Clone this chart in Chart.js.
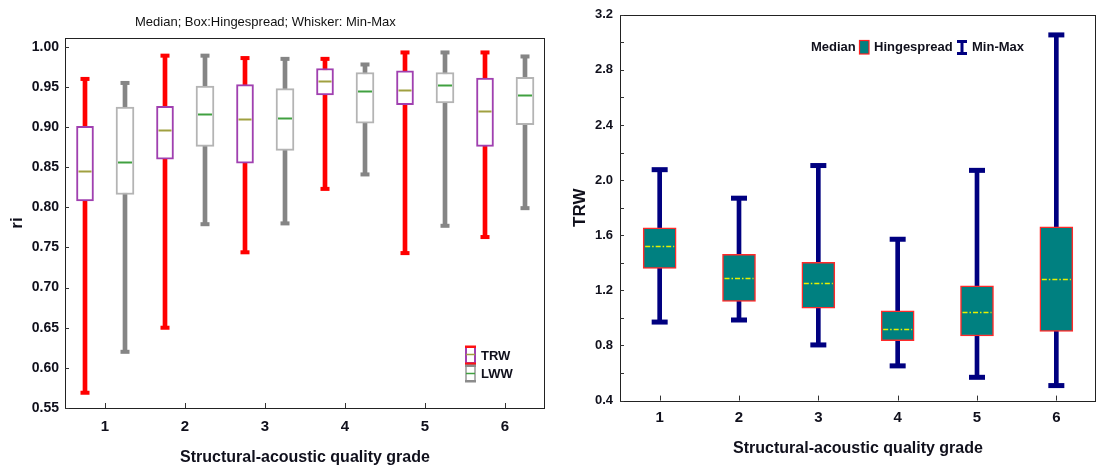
<!DOCTYPE html>
<html><head><meta charset="utf-8">
<script src="https://cdn.jsdelivr.net/npm/chart.js@4.4.1/dist/chart.umd.min.js"></script>
<style>
html,body{margin:0;padding:0;background:#fff;}
#wrap{position:relative;width:1100px;height:470px;overflow:hidden;background:#fff;}
#c1{position:absolute;left:0;top:0;width:555px;height:470px;}
#c2{position:absolute;left:560px;top:0;width:540px;height:470px;}
</style></head><body>
<div id="wrap"><canvas id="c1" width="555" height="470"></canvas><canvas id="c2" width="540" height="470"></canvas></div>
<script>
// ---------- data ----------
const grades = ['1', '2', '3', '4', '5', '6'];

// left panel (ri)
const trwMin = [0.569, 0.650, 0.744, 0.823, 0.743, 0.763];
const trwQ1  = [0.808, 0.860, 0.855, 0.940, 0.928, 0.876];
const trwMed = [0.845, 0.896, 0.910, 0.958, 0.946, 0.920];
const trwQ3  = [0.901, 0.926, 0.953, 0.973, 0.970, 0.961];
const trwMax = [0.960, 0.989, 0.986, 0.985, 0.993, 0.993];

const lwwMin = [0.620, 0.779, 0.780, 0.841, 0.777, 0.799];
const lwwQ1  = [0.816, 0.876, 0.871, 0.905, 0.930, 0.903];
const lwwMed = [0.856, 0.916, 0.911, 0.945, 0.952, 0.940];
const lwwQ3  = [0.925, 0.951, 0.948, 0.968, 0.968, 0.962];
const lwwMax = [0.955, 0.989, 0.985, 0.978, 0.993, 0.988];

const riTicks = [0.55, 0.60, 0.65, 0.70, 0.75, 0.80, 0.85, 0.90, 0.95, 1.00];

// right panel (TRW)
const rMin = [0.970, 0.985, 0.804, 0.652, 0.569, 0.509];
const rQ1  = [1.359, 1.119, 1.071, 0.835, 0.869, 0.902];
const rMed = [1.519, 1.292, 1.254, 0.919, 1.042, 1.283];
const rQ3  = [1.654, 1.461, 1.404, 1.052, 1.233, 1.661];
const rMax = [2.076, 1.869, 2.106, 1.571, 2.071, 3.054];

const trwTicks = [0.4, 0.8, 1.2, 1.6, 2.0, 2.4, 2.8, 3.2];

// ---------- helpers ----------
const FONT = "'Liberation Sans', Arial, sans-serif";
const TXT = '#10101c';

const boxPlot = {
  id: 'boxPlot',
  afterDatasetsDraw(chart, args, opts) {
    const ctx = chart.ctx, y = chart.scales.y;
    (opts.series || []).forEach(s => {
      const bm = chart.getDatasetMeta(s.box);
      bm.data.forEach((el, i) => {
        const cx = el.x, w = el.width;
        ctx.save();
        ctx.fillStyle = s.capColor;
        [s.min[i], s.max[i]].forEach(v => {
          const py = y.getPixelForValue(v);
          ctx.fillRect(cx - s.capW / 2, py - s.capH / 2, s.capW, s.capH);
        });
        ctx.strokeStyle = s.medColor;
        ctx.lineWidth = s.medW;
        if (s.dash) ctx.setLineDash(s.dash);
        const my = Math.round(y.getPixelForValue(s.med[i])) + 0.5;
        ctx.beginPath();
        ctx.moveTo(cx - w / 2 + s.inset, my);
        ctx.lineTo(cx + w / 2 - s.inset, my);
        ctx.stroke();
        ctx.restore();
      });
    });
  }
};

const frame = {
  id: 'frame',
  afterDraw(chart, args, opts) {
    const ctx = chart.ctx, a = chart.chartArea, x = chart.scales.x, y = chart.scales.y;
    ctx.save();
    ctx.strokeStyle = '#222';
    ctx.lineWidth = 1;
    ctx.strokeRect(Math.round(a.left) + 0.5, Math.round(a.top) + 0.5,
      Math.round(a.right - a.left) - 1, Math.round(a.bottom - a.top));
    ctx.strokeStyle = '#333';
    const yt = y.ticks.map(t => t.value);
    yt.forEach(v => {
      const py = Math.round(y.getPixelForValue(v)) + 0.5;
      ctx.beginPath(); ctx.moveTo(a.left, py); ctx.lineTo(a.left + 4, py); ctx.stroke();
    });
    if (opts.minor) {
      for (let i = 0; i < yt.length - 1; i++) {
        const py = Math.round(y.getPixelForValue((yt[i] + yt[i + 1]) / 2)) + 0.5;
        ctx.beginPath(); ctx.moveTo(a.left, py); ctx.lineTo(a.left + 4, py); ctx.stroke();
      }
    }
    x.ticks.forEach((t, i) => {
      const px = Math.round(x.getPixelForValue(i)) + 0.5;
      ctx.beginPath(); ctx.moveTo(px, a.bottom); ctx.lineTo(px, a.bottom - 5); ctx.stroke();
    });
    ctx.restore();
  }
};

const leftDecor = {
  id: 'leftDecor',
  afterDraw(chart) {
    const ctx = chart.ctx;
    ctx.save();
    ctx.fillStyle = '#111';
    ctx.font = '13px ' + FONT;
    ctx.textBaseline = 'middle';
    ctx.textAlign = 'left';
    ctx.fillText('Median; Box:Hingespread; Whisker: Min-Max', 135, 22);
    // TRW icon
    ctx.fillStyle = '#fff';
    ctx.fillRect(465, 346, 10, 18);
    ctx.strokeStyle = '#a040b0'; ctx.lineWidth = 2;
    ctx.strokeRect(466, 347, 9, 16);
    ctx.fillStyle = '#ff1010';
    ctx.fillRect(465, 345.5, 11, 2.5);
    ctx.fillRect(465, 362.5, 11, 2.5);
    ctx.strokeStyle = '#a0a040'; ctx.lineWidth = 1.5;
    ctx.beginPath(); ctx.moveTo(466, 354.5); ctx.lineTo(475, 354.5); ctx.stroke();
    // LWW icon
    ctx.strokeStyle = '#b0b0b0'; ctx.lineWidth = 2;
    ctx.strokeRect(466, 366, 9, 15);
    ctx.fillStyle = '#8c8c8c';
    ctx.fillRect(465, 364.5, 11, 2.5);
    ctx.fillRect(465, 380, 11, 2.5);
    ctx.strokeStyle = '#40a040'; ctx.lineWidth = 1.5;
    ctx.beginPath(); ctx.moveTo(466, 373.5); ctx.lineTo(475, 373.5); ctx.stroke();
    ctx.fillStyle = TXT;
    ctx.font = 'bold 13px ' + FONT;
    ctx.fillText('TRW', 481, 356);
    ctx.fillText('LWW', 481, 374);
    ctx.restore();
  }
};

const rightDecor = {
  id: 'rightDecor',
  afterDraw(chart) {
    const ctx = chart.ctx;
    ctx.save();
    ctx.fillStyle = TXT;
    ctx.font = 'bold 13px ' + FONT;
    ctx.textBaseline = 'middle';
    ctx.textAlign = 'left';
    ctx.fillText('Median', 251, 47);
    ctx.fillStyle = '#008080';
    ctx.fillRect(299, 40, 10, 14);
    ctx.strokeStyle = '#ff2020'; ctx.lineWidth = 1.2;
    ctx.strokeRect(299.5, 40.5, 9.5, 13.5);
    ctx.fillStyle = TXT;
    ctx.fillText('Hingespread', 314, 47);
    ctx.fillStyle = '#000080';
    ctx.fillRect(397, 40, 10, 3);
    ctx.fillRect(397, 52, 10, 3);
    ctx.fillRect(400.5, 40, 3, 15);
    ctx.fillStyle = TXT;
    ctx.fillText('Min-Max', 412, 47);
    ctx.restore();
  }
};

function whiskerDS(label, mins, maxs, color, stack, thick) {
  return {
    label, stack, order: 2,
    data: mins.map((m, i) => [m, maxs[i]]),
    backgroundColor: color, borderWidth: 0,
    categoryPercentage: 1, barPercentage: 1, maxBarThickness: thick
  };
}
function boxDS(label, q1, q3, fill, border, bw, stack, thick) {
  return {
    label, stack, order: 1,
    data: q1.map((q, i) => [q, q3[i]]),
    backgroundColor: fill, borderColor: border, borderWidth: bw, borderSkipped: false,
    categoryPercentage: 1, barPercentage: 1, maxBarThickness: thick
  };
}

// ---------- left chart ----------
new Chart(document.getElementById('c1'), {
  type: 'bar',
  data: {
    labels: grades,
    datasets: [
      whiskerDS('TRW range', trwMin, trwMax, '#ff0000', 'TRW', 4),
      boxDS('TRW', trwQ1, trwQ3, '#ffffff', '#a040b0', 2, 'TRW', 17),
      whiskerDS('LWW range', lwwMin, lwwMax, '#858585', 'LWW', 4),
      boxDS('LWW', lwwQ1, lwwQ3, '#ffffff', '#b4b4b4', 2, 'LWW', 18)
    ]
  },
  options: {
    responsive: false, animation: false, devicePixelRatio: 1,
    layout: { padding: { left: 0, top: 38, right: 10, bottom: 0 } },
    plugins: {
      legend: { display: false }, tooltip: { enabled: false }, title: { display: false },
      boxPlot: { series: [
        { box: 1, min: trwMin, max: trwMax, med: trwMed, capColor: '#ff0000', capW: 9, capH: 4, medColor: '#a0a040', medW: 2, inset: 2 },
        { box: 3, min: lwwMin, max: lwwMax, med: lwwMed, capColor: '#858585', capW: 9, capH: 4, medColor: '#40a040', medW: 2, inset: 2 }
      ] },
      frame: {}
    },
    scales: {
      x: {
        offset: true,
        grid: { display: false, drawTicks: false },
        border: { display: false },
        ticks: { color: TXT, font: { family: FONT, size: 15, weight: 'bold' }, padding: 10 },
        title: { display: true, text: 'Structural-acoustic quality grade', color: TXT,
                 font: { family: FONT, size: 16, weight: 'bold' }, padding: { top: 0, bottom: 3 } },
        afterFit(s) { s.height = 62; }
      },
      y: {
        min: 0.55, max: 1.011, stacked: false,
        grid: { display: false, drawTicks: false },
        border: { display: false },
        afterBuildTicks(s) { s.ticks = riTicks.map(v => ({ value: v })); },
        ticks: { color: TXT, font: { family: FONT, size: 14, weight: 'bold' }, padding: 6,
                 callback: v => Number(v).toFixed(2) },
        title: { display: true, text: 'ri', color: TXT,
                 font: { family: FONT, size: 17, weight: 'bold' }, padding: { top: 7, bottom: 0 } },
        afterFit(s) { s.width = 65; }
      }
    }
  },
  plugins: [boxPlot, frame, leftDecor]
});

// ---------- right chart ----------
new Chart(document.getElementById('c2'), {
  type: 'bar',
  data: {
    labels: grades,
    datasets: [
      whiskerDS('Min-Max', rMin, rMax, '#000080', 'A', 4),
      boxDS('Hingespread', rQ1, rQ3, '#008080', '#ff2a2a', 1.5, 'A', 33)
    ]
  },
  options: {
    responsive: false, animation: false, devicePixelRatio: 1,
    layout: { padding: { left: 0, top: 8, right: 4, bottom: 0 } },
    plugins: {
      legend: { display: false }, tooltip: { enabled: false }, title: { display: false },
      boxPlot: { series: [
        { box: 1, min: rMin, max: rMax, med: rMed, capColor: '#000080', capW: 16, capH: 5,
          medColor: '#e8f000', medW: 1.5, inset: 2, dash: [5, 2, 1.5, 2] }
      ] },
      frame: { minor: true }
    },
    scales: {
      x: {
        offset: true,
        grid: { display: false, drawTicks: false },
        border: { display: false },
        ticks: { color: TXT, font: { family: FONT, size: 15, weight: 'bold' }, padding: 8 },
        title: { display: true, text: 'Structural-acoustic quality grade', color: TXT,
                 font: { family: FONT, size: 16, weight: 'bold' }, padding: { top: 0, bottom: 12 } },
        afterFit(s) { s.height = 69.4; }
      },
      y: {
        min: 0.4, max: 3.2, stacked: false,
        grid: { display: false, drawTicks: false },
        border: { display: false },
        afterBuildTicks(s) { s.ticks = trwTicks.map(v => ({ value: v })); },
        ticks: { color: TXT, font: { family: FONT, size: 13, weight: 'bold' }, padding: 7,
                 callback: v => Number(v).toFixed(1) },
        title: { display: true, text: 'TRW', color: TXT,
                 font: { family: FONT, size: 17, weight: 'bold' }, padding: { top: 10, bottom: 0 } },
        afterFit(s) { s.width = 60; }
      }
    }
  },
  plugins: [boxPlot, frame, rightDecor]
});
</script>
</body></html>
